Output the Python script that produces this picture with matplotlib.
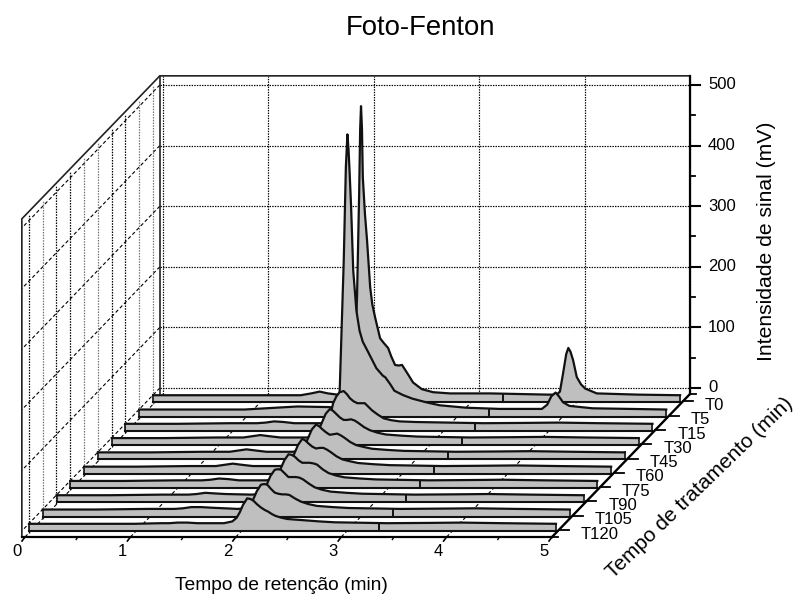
import matplotlib
matplotlib.use('Agg')
import matplotlib.pyplot as plt
import numpy as np

plt.rcParams['font.family'] = ['Liberation Sans', 'DejaVu Sans']

# treatment labels, back to front
labels = ['T0', 'T5', 'T15', 'T30', 'T45', 'T60', 'T75', 'T90', 'T105', 'T120']

# retention times (min) and signals (mV)
rt_t0 = [0, .5, 1, 1.4, 1.5, 1.58, 1.66, 1.75, 1.87, 1.91, 1.935, 1.955, 1.965, 1.973, 1.982, 1.99, 2.01, 2.03, 2.06,
         2.08, 2.106, 2.154, 2.19, 2.23, 2.26, 2.296, 2.33, 2.362, 2.41, 2.467, 2.55, 2.657, 2.818, 3.2, 3.75, 3.83,
         3.86, 3.89, 3.92, 3.94, 3.96, 3.985, 4.02, 4.06, 4.1, 4.21, 4.6, 5.0]
t0 = [0, 0, 0, 0, 3, 6, 3, 1, 0, 20, 162, 330, 440, 477, 440, 360, 300, 256, 178,
      150, 129, 94, 86, 78, 64, 50, 49, 50, 37, 21, 10, 5, 3, 3, 1, 1,
      6, 36, 68, 78, 72, 58, 30, 18, 11, 3, 1, 0]

rt_t5 = [0, .5, 1, 1.2, 1.5, 1.8, 1.86, 1.9, 1.94, 1.96, 1.975, 1.985, 1.995, 2.01, 2.03, 2.06, 2.09, 2.12, 2.165,
         2.25, 2.31, 2.335, 2.38, 2.42, 2.5, 2.59, 2.72, 2.85, 3.1, 3.42, 3.82, 3.87, 3.91, 3.95, 3.98, 4.02, 4.08,
         4.3, 5.0]
t5 = [0, 0, 0, 2, 5, 4, 3, 23, 246, 400, 454, 430, 394, 333, 229, 163, 130, 112, 97,
      68, 56, 53, 42, 31, 24, 18, 12, 7, 3, 1, 1, 8, 22, 28, 22, 12, 6,
      2, 0]

rt = [0, .5, 1, 1.25, 1.33, 1.41, 1.5, 1.6, 1.85, 1.93, 1.97, 2.0, 2.03, 2.07, 2.1, 2.13, 2.165, 2.2, 2.235, 2.27,
      2.305, 2.34, 2.395, 2.45, 2.52, 2.6, 2.75, 2.9, 3.4, 3.8, 4.1, 4.5, 5.0]
t15 = [0, 0, 1, 1, 2, 4, 3, 1, 1, 3, 34, 45, 52, 54, 49, 42, 37, 34, 34, 34,
       28, 22, 15, 9, 6, 4, 3, 2.5, 1, 1.5, 2, 1, 0]
t30 = [0, 0, 1, 1, 3, 5, 3, 1, 1, 3, 16, 28, 40, 48, 45, 40, 34, 30, 30, 31,
       29, 25, 18, 13, 9, 6, 4, 2.5, 1, 1.5, 2, 1, 0]
t45 = [0, 0, 1, 1, 3, 5, 3, 1, 1, 3, 14, 26, 38, 46, 43, 38, 33, 29, 30, 31,
       28, 24, 17, 12, 9, 6, 4, 2.5, 1, 1.5, 2, 1, 0]
t60 = [0, 0, 1, 1, 3, 5, 3, 1, 1, 2, 12, 24, 36, 46, 43, 38, 33, 30, 31, 31,
       28, 24, 17, 12, 9, 6, 4, 2.5, 1, 1.5, 2, 1, 0]
t75 = [0, 0, 1, 1, 2, 4, 3, 1, 1, 2, 10, 22, 34, 44, 43, 40, 34, 30, 30, 30,
       29, 27, 19, 13, 9, 6, 4, 2.5, 1, 1.5, 2, 1, 0]
t90 = [0, 0, 1, 1, 2, 4, 3, 2, 1, 2, 10, 20, 32, 42, 43, 42, 36, 30, 30, 30,
       29, 26, 19, 13, 9, 6, 4, 2.5, 1, 1.5, 2, 1, 0]
t105 = [0, 0, 1, 1, 2, 4, 4, 3, 1, 2, 8, 18, 30, 41, 42, 41, 34, 28, 26, 25,
        25, 24, 18, 13, 9, 6, 4, 2.5, 1, 1.5, 2, 1, 0]
t120 = [0, 0, 0, 1, 1, 2, 2, 1, 1, 4, 10, 19, 31, 42, 41, 38, 32, 27, 23, 20,
        16, 13, 10, 8, 7, 6, 4, 2.5, 1, 1.5, 2, 1, 0]

series_x = [rt_t0, rt_t5, rt, rt, rt, rt, rt, rt, rt, rt]
series_y = [t0, t5, t15, t30, t45, t60, t75, t90, t105, t120]

x_ticks = [0, 1, 2, 3, 4, 5]
x_minor = [.5, 1.5, 2.5, 3.5, 4.5]
y_ticks = [0, 100, 200, 300, 400, 500]
y_minor = [50, 150, 250, 350, 450]
break_x = 3.32  # vertical mark inside each ribbon

# oblique projection: retention time, depth (0 front, 1 back), signal -> pixels
X_FRONT, X_SCALE, X_DEPTH = 25, 105.4, 138
Y_FLOOR, Y_DEPTH, Y_SCALE = 537, 143, 0.606
X_MIN, X_MAX, Y_MIN, Y_MAX = -.03, 5.0, -10, 515


def px(x, d=0.):
    return X_FRONT + np.asarray(x, dtype=float) * X_SCALE + d * X_DEPTH


def py(v, d=0.):
    return Y_FLOOR - d * Y_DEPTH - (np.asarray(v, dtype=float) - Y_MIN) * Y_SCALE


def depth(i):
    return .928 - .0999 * i


fig = plt.figure(figsize=(7.99, 6), dpi=100)
ax = fig.add_axes([0, 0, 1, 1])
ax.set_xlim(0, 799)
ax.set_ylim(600, 0)
ax.axis('off')

dot = (0, (1.2, 1.0))
dash = (0, (3.2, 2.2))

# back wall grid
for x in x_ticks:
    ax.plot([px(x, 1)] * 2, [py(Y_MIN, 1), py(Y_MAX, 1)], color='k', lw=.85, ls=dot, zorder=1)
for v in y_ticks:
    ax.plot([px(X_MIN, 1), px(X_MAX, 1)], [py(v, 1)] * 2, color='k', lw=.85, ls=dot, zorder=1)

# left wall grid
for v in y_ticks:
    ax.plot([px(X_MIN, 1), px(X_MIN, 0)], [py(v, 1), py(v, 0)], color='k', lw=.8, ls=dash, zorder=1)
wall_colors = ['k', '#777777', 'k', 'k', '#777777', '#777777', 'k', 'k', '#777777', '#777777']
for i, c in enumerate(wall_colors):
    d = depth(9 - i)
    ax.plot([px(X_MIN, d) + 3] * 2, [py(Y_MIN, d), py(Y_MAX, d)], color=c, lw=.9, ls=dot, zorder=1)

# floor grid
for x in x_ticks:
    ax.plot([px(x, 0), px(x, 1)], [py(Y_MIN, 0), py(Y_MIN, 1)], color='k', lw=.8, ls=dash, zorder=1)

# box frame
ax.plot([px(X_MIN, 0), px(X_MIN, 0), px(X_MIN, 1), px(X_MAX, 1)],
        [py(Y_MIN, 0), py(Y_MAX, 0), py(Y_MAX, 1), py(Y_MAX, 1)], color='#222222', lw=1.2, zorder=2)
ax.plot([px(X_MIN, 1)] * 2, [py(Y_MIN, 1), py(Y_MAX, 1)], color='#222222', lw=1.2, zorder=2)

# ribbons, back to front
LIFT = 3
THICK = 7
for i, (xs, ys) in enumerate(zip(series_x, series_y)):
    d = depth(i)
    z = 3 + i
    top_x = px(xs, d)
    top_y = py(ys, d) - LIFT
    base = float(py(0, d)) - LIFT + THICK
    ax.fill_between(top_x, top_y, base, color='#bfbfbf', lw=0, zorder=z)
    ax.plot(top_x, top_y, color='#111111', lw=1.6, solid_joinstyle='round', zorder=z)
    ax.plot([top_x[0], top_x[-1]], [base, base], color='#111111', lw=1.5, zorder=z)
    ax.plot([top_x[0], top_x[0]], [top_y[0], base], color='#111111', lw=1.2, zorder=z)
    ax.plot([top_x[-1], top_x[-1]], [top_y[-1], base], color='#111111', lw=1.2, zorder=z)
    ax.plot([px(break_x, d)] * 2, [base - THICK, base], color='#111111', lw=1.4, zorder=z)

# x axis
ax.plot([px(X_MIN, 0), px(X_MAX, 0)], [py(Y_MIN, 0)] * 2, color='k', lw=1.6, zorder=20)
for x in x_ticks:
    ax.plot([px(x, 0), px(x, 0) - 3], [py(Y_MIN, 0), py(Y_MIN, 0) + 4], color='k', lw=1.2, zorder=20)
    ax.text(px(x, 0) - 8, 552, str(x), ha='center', va='center', fontsize=12)
for x in x_minor:
    ax.plot([px(x, 0), px(x, 0) - 1.5], [py(Y_MIN, 0), py(Y_MIN, 0) + 2.5], color='k', lw=1, zorder=20)

# y axis
ax.plot([px(X_MAX, 1)] * 2, [py(Y_MIN, 1), py(Y_MAX, 1)], color='k', lw=1.6, zorder=20)
for v in y_ticks:
    ax.plot([px(X_MAX, 1), px(X_MAX, 1) + 10], [py(v, 1)] * 2, color='k', lw=1.5, zorder=20)
    ax.text(px(X_MAX, 1) + 18, py(v, 1), str(v), ha='left', va='center', fontsize=12)
for v in y_minor:
    ax.plot([px(X_MAX, 1), px(X_MAX, 1) + 5], [py(v, 1)] * 2, color='k', lw=1.3, zorder=20)

# treatment axis
ax.plot([px(X_MAX, 0), px(X_MAX, 1)], [py(Y_MIN, 0), py(Y_MIN, 1)], color='k', lw=1.7, zorder=20)
for i, name in enumerate(labels):
    d = depth(i) + .02
    ax.plot([px(X_MAX, d), px(X_MAX, d) + 10], [py(Y_MIN, d)] * 2, color='k', lw=1.3, zorder=20)
    ax.text(px(X_MAX, d) + 22, py(Y_MIN, d) + 4, name, ha='left', va='center', fontsize=12)
for d in (0, 1):
    ax.plot([px(X_MAX, d), px(X_MAX, d) + 6], [py(Y_MIN, d)] * 2, color='k', lw=1.3, zorder=20)

ax.text(420, 28, 'Foto-Fenton', ha='center', va='center', fontsize=19.8)
ax.text(281, 586, 'Tempo de retenção (min)', ha='center', va='center', fontsize=13.8)
ax.text(767, 241, 'Intensidade de sinal (mV)', ha='center', va='center', rotation=90, fontsize=15.2)
ax.text(700, 488, 'Tempo de tratamento (min)', ha='center', va='center', rotation=44,
        rotation_mode='anchor', fontsize=15)

fig.savefig('out.png', dpi=100)
